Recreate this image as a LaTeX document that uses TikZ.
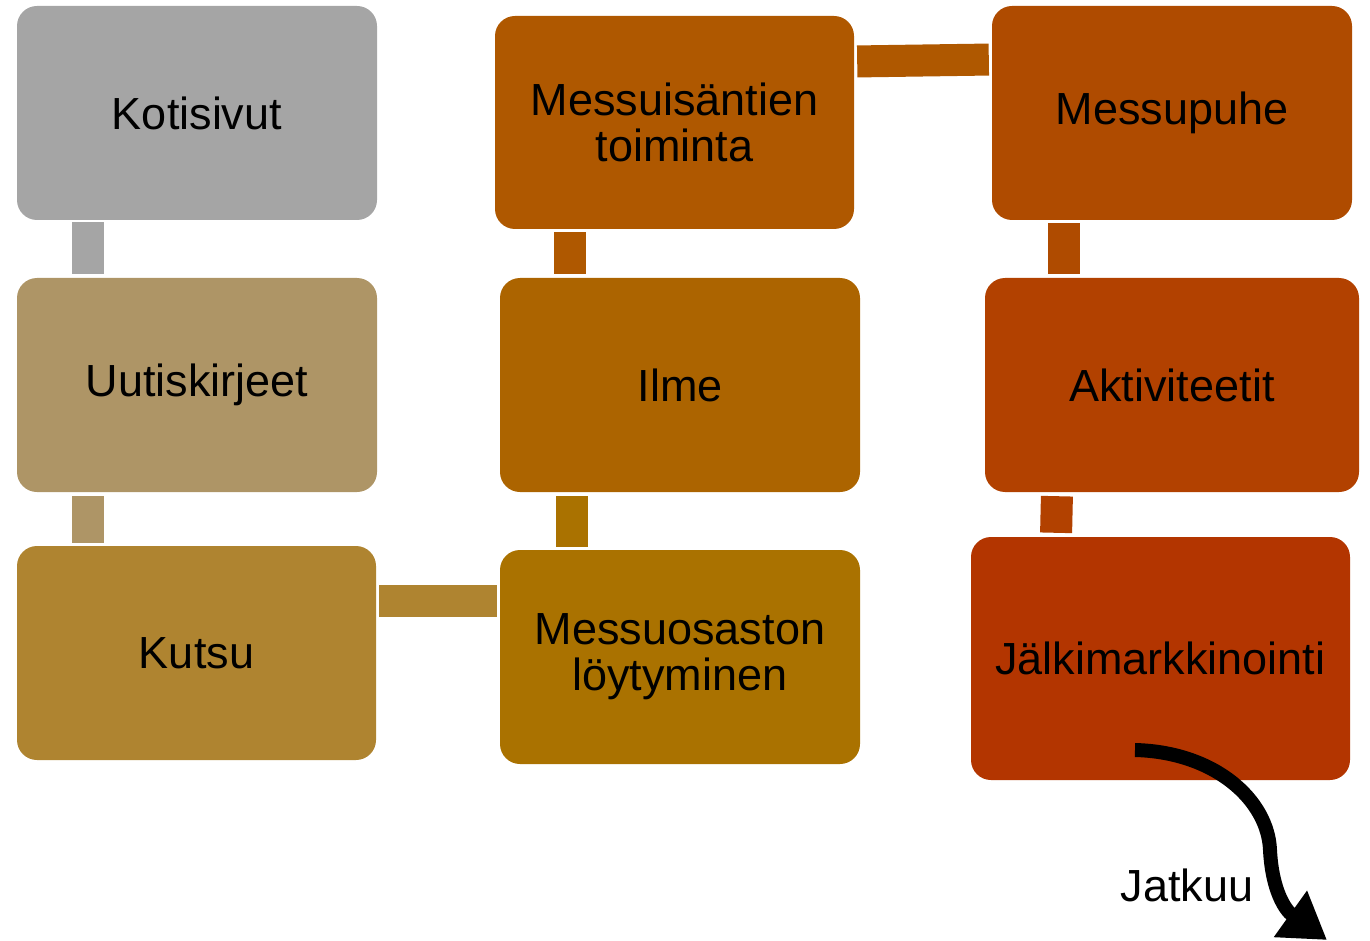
\documentclass[tikz,border=0pt]{standalone}
\usepackage{fontspec}
\setmainfont{Liberation Sans}
\usetikzlibrary{arrows.meta}
\definecolor{cA}{HTML}{A5A5A5}
\definecolor{cB}{HTML}{AE9566}
\definecolor{cC}{HTML}{AF8430}
\definecolor{cD}{HTML}{AA7200}
\definecolor{cE}{HTML}{AC6400}
\definecolor{cF}{HTML}{AF5800}
\definecolor{cG}{HTML}{AF4B00}
\definecolor{cH}{HTML}{B24100}
\definecolor{cI}{HTML}{B33500}
\tikzset{
  box/.style={rounded corners=20pt, inner sep=0pt, align=center, text=black,
    font=\fontsize{45}{46}\selectfont},
  conn/.style={line width=32pt}
}
\begin{document}
\begin{tikzpicture}[x=1pt,y=-1pt]
\useasboundingbox (0,0) rectangle (1370,941);
\node[box, fill=cA, minimum width=360pt, minimum height=214pt] (k) at (197,113) {Kotisivut};
\node[box, fill=cB, minimum width=360pt, minimum height=214pt] (u) at (197,385) {Uutiskirjeet};
\node[box, fill=cC, minimum width=359pt, minimum height=214pt] (ku) at (196.5,653) {Kutsu};
\node[box, fill=cD, minimum width=360pt, minimum height=214pt] (m) at (680,657) {Messuosaston\\löytyminen};
\node[box, fill=cE, minimum width=360pt, minimum height=214pt] (i) at (680,385) {Ilme};
\node[box, fill=cF, minimum width=359pt, minimum height=213pt] (t) at (674.5,122.5) {Messuisäntien\\toiminta};
\node[box, fill=cG, minimum width=360pt, minimum height=214pt] (p) at (1172,113) {Messupuhe};
\node[box, fill=cH, minimum width=374pt, minimum height=214pt] (a) at (1172,385) {Aktiviteetit};
\node[box, fill=cI, minimum width=379pt, minimum height=243pt] (j) at (1160.5,658.5) {Jälkimarkkinointi};

\draw[conn, draw=cA, shorten <=2pt, shorten >=4pt] ([xshift=-109pt]k.south) -- ([xshift=-109pt]u.north);
\draw[conn, draw=cB, shorten <=4pt, shorten >=3pt] ([xshift=-109pt]u.south) -- ([xshift=-108.5pt]ku.north);
\draw[conn, draw=cC, shorten <=3pt, shorten >=3pt] ([yshift=52pt]ku.east) -- ([yshift=56pt]m.west);
\draw[conn, draw=cD, shorten <=3pt, shorten >=4pt] ([xshift=-108.5pt]m.north) -- ([xshift=-108.5pt]i.south);
\draw[conn, draw=cF, shorten <=4pt, shorten >=3pt] ([xshift=-110pt]i.north) -- ([xshift=-104.5pt]t.south);
\draw[conn, draw=cF, shorten <=3pt, shorten >=3pt] ([yshift=61pt]t.east) -- ([yshift=53.5pt]p.west);
\draw[conn, draw=cG, shorten <=3pt, shorten >=4pt] ([xshift=-108pt]p.south) -- ([xshift=-108pt]a.north);
\draw[conn, draw=cH, shorten <=4pt, shorten >=4pt] ([xshift=-115pt]a.south) -- ([xshift=-104.5pt]j.north);

\coordinate (s) at (1135,750);
\coordinate (e) at (1327,940);
\draw[line width=14pt, -{Triangle[length=45pt,width=54pt]}] (s) .. controls (1215,752) and (1268,800) .. (1270,850) .. controls (1272,890) and (1285,910) .. (e);
\node[font=\fontsize{45}{46}\selectfont, inner sep=0pt] (jt) at (1187,885) {Jatkuu};
\end{tikzpicture}
\end{document}
